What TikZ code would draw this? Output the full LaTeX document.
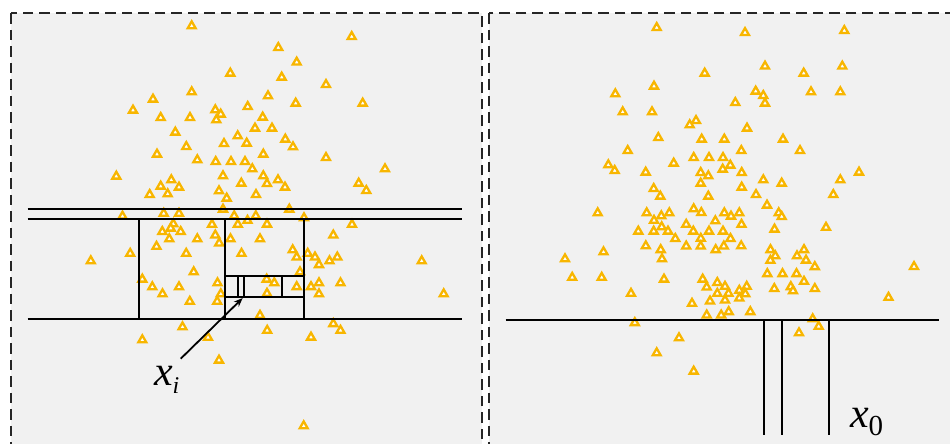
\documentclass[tikz,border=0pt]{standalone}
\usepackage{fontspec}
\setmainfont{Liberation Serif}
\usetikzlibrary{shapes.geometric,arrows.meta}
\definecolor{trio}{RGB}{248,182,0}
\definecolor{panelbg}{RGB}{241,241,241}
\begin{document}
\begin{tikzpicture}[x=1pt,y=-1pt,
  trinode/.style={regular polygon, regular polygon sides=3, minimum size=9.2pt, inner sep=0pt, outer sep=0pt, draw=trio, fill=white, line width=2.3pt},
  paneledge/.style={draw=black!85, line width=1.8pt, dash pattern=on 10.5pt off 6pt},
  cut/.style={draw=black, line width=2pt},
  arr/.style={draw=black, line width=1.8pt, -{Stealth[length=9pt,width=7pt]}},
  lbl/.style={inner sep=0pt, outer sep=0pt, anchor=base west}]
\useasboundingbox (0,0) rectangle (950,444);
\clip (0,0) rectangle (950,444);
% panels
\fill[panelbg] (11,13.3) rectangle (481.7,444.6);
\draw[paneledge] (11,13.3) rectangle (481.7,444.6);
\fill[panelbg] (489.3,13.3) rectangle (951,444.6);
\draw[paneledge] (489.3,13.3) rectangle (951,444.6);
% left panel triangles
\foreach \x/\y [count=\i] in {
191.7/26,351.7/36.7,278.3/47.7,296.7/62.3,230.3/73.3,281.7/77.3,326/84.7,191.7/92,268/96,153/99.3,
133/110.3,295.7/103.3,362.7/103.3,215.3/110,220.7/114.3,216.3/120,247.7/106.7,160.7/117.7,190/117.7,262.7/117.3,
255/128.3,272/128.3,175.3/132.3,237.7/136,224/143.7,246.7/143.3,285.3/139.3,293/147,186.3/146.7,157/154.3,
263.3/154.3,326/157.7,197.3/160,215.7/161.7,231/161.7,245/161.7,252.3/169,385/169,116.3/176.3,171.3/180,
160.7/186.3,179/187.3,223/176,263.3/176,278/180,267/183.7,285/187.3,241.3/183.3,219/191,226.7/198.3,
149.7/194.7,167.7/194,256/194.7,358.7/183.3,366.3/190.7,
223/209.3,289.3/209.3,163.7/213.5,179/213.5,122.5/216.3,234.2/216,255.8/216,247.5/220.5,304/218,352/224.5,
237.8/224.5,173.3/224,170.7/228.3,162.3/231.7,180.7/231.7,169.3/239,197.3/239,212/224.5,215.3/235.2,219.2/243.2,230.5/239,
156.5/246.5,130.2/253.5,90.8/261,186.2/253.5,241.5/253.5,193.7/272,142.3/279.3,152.3/287,162.5/294,179/287,189.8/301.5,
217.5/283,220.8/294,217.2/301.5,182.5/327,142.3/340,208/337.5,219/360.3,
267/224.3,260/239,333.3/235.2,292.7/250,296.7/257.2,307.7/253.5,315/257.2,319/264.8,329.5/261,337.3/257.2,421.7/261,
300/272,266.7/279.3,274.3/283,267/293.5,296.7/286.8,311/286.8,319/283,319/294,340.5/283,443.7/294,
260/315.5,267.2/330.5,333.3/323.8,340.5/330.5,311/337.3,303.7/426}
  \node[trinode] (L\i) at (\x,\y) {};
% right panel triangles
\foreach \x/\y [count=\i] in {
656.7/27.7,745/32.7,844.3/30.7,765/66.3,842.3/66.3,704.7/73.3,803.7/73.3,654/86.3,615.3/94,755.7/91.3,
763.3/95.7,765/103.3,811/92,840.3/92,735.3/102.7,622.7/112,652/112,696/120.7,689.7/125,747/128.3,
658.3/137.7,701.7/139.3,724.3/139.3,783/139.3,627.7/150.7,741.3/150.7,800/150.7,693.7/157.7,709/157.7,723/157.7,
730.3/165.3,722.7/169.3,608.3/165,614.7/170.7,673.7/163.3,645.7/172.3,700.7/172.7,708.3/176,741.7/172.7,859/172.3,
840.3/180,763.3/180,781.7/183.3,700.7/183.3,653.7/188.7,660.3/196.3,708.3/196.3,741.7/187.3,756/194.7,833.3/194.7,
767/205.3,597.7/213,646.7/213,661.3/216,669.3/213,693.7/209,701.3/212.7,724.3/213,731/216.3,739.3/213,
778.7/213,781.7/216.7,
654/220.5,686.2/224.5,715.3/221,741.5/224.5,
661.7/227,638.3/231.3,653.7/231.3,668/231.3,693.3/231.3,709/231.3,723/231.3,774.5/229.3,826/227.5,
675.3/238.7,700.8/238.5,730.5/238.7,
645.8/246,660.7/249.8,662/259,686.2/246.2,700.7/246.2,715.7/249.8,723.8/246.2,741.2/246,
770.5/249.8,775.3/256,770.4/260.5,797/256,804/249.8,806/260.3,814.8/266.8,
565/259,603.5/252,572.2/277.5,601.7/277.5,664/279.3,631/293.5,
702.7/279.3,706.7/287.2,717.3/282.7,725/286.5,717.3/293.5,728.5/293.5,725/300.2,739.3/290.5,746.7/286.5,745.3/294,739.3/298.2,
710/301.2,692/303.5,706.7/315.2,721.2/315.2,728.7/311.8,750.3/311.8,
767.3/273.8,782.5/273.8,796.5/273.8,804/281.5,790.8/286.8,793/291,814.8/288.7,774.3/288.7,
914/266.7,888.5/297.5,634.8/322.8,812.7/319,818.7/326.5,799/333,679/338,656.7/353,693.7/371.3}
  \node[trinode] (R\i) at (\x,\y) {};
% left partition lines
\draw[cut] (27.7,209.3) -- (461.7,209.3);
\draw[cut] (27.7,219.3) -- (461.7,219.3);
\draw[cut] (27.7,319.3) -- (461.7,319.3);
\draw[cut] (138.5,219.3) -- (138.5,319.3);
\draw[cut] (224.5,219.3) -- (224.5,319.3);
\draw[cut] (304,219.3) -- (304,319.3);
\draw[cut] (224.5,275.7) -- (304,275.7);
\draw[cut] (224.5,297.3) -- (304,297.3);
\draw[cut] (237.7,275.7) -- (237.7,297.3);
\draw[cut] (244.3,275.7) -- (244.3,297.3);
\draw[cut] (282,275.7) -- (282,297.3);
% right partition lines
\draw[cut] (505.7,319.7) -- (939.3,319.7);
\draw[cut] (763.7,319.7) -- (763.7,434.7);
\draw[cut] (781.7,319.7) -- (781.7,434.7);
\draw[cut] (829.3,319.7) -- (829.3,434.7);
% arrow and labels
\coordinate (atail) at (180.7,358.7);
\coordinate (ahead) at (242.7,298);
\draw[arr] (atail) -- (ahead);
\node[lbl] (xi) at (154,385.3) {{\fontsize{42}{42}\selectfont\itshape x}\kern0pt\raisebox{-8.6pt}{\fontsize{24}{24}\selectfont\itshape i}};
\node[lbl] (x0) at (850,427) {{\fontsize{42}{42}\selectfont\itshape x}\kern0pt\raisebox{-8.8pt}{\fontsize{29}{29}\selectfont 0}};
\end{tikzpicture}
\end{document}
